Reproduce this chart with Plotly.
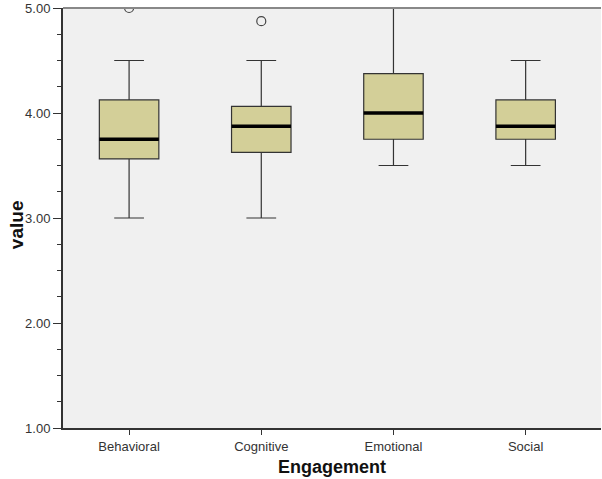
import plotly.graph_objects as go

categories = ["Behavioral", "Cognitive", "Emotional", "Social"]
lower_whisker = [3.0, 3.0, 3.5, 3.5]
q1 = [3.5625, 3.625, 3.75, 3.75]
median = [3.75, 3.875, 4.0, 3.875]
q3 = [4.125, 4.0625, 4.375, 4.125]
upper_whisker = [4.5, 4.5, 5.0, 4.5]
outlier_x = ["Behavioral", "Cognitive"]
outlier_y = [5.0, 4.875]

y_ticks = [1, 2, 3, 4, 5]
y_tick_labels = ["1.00", "2.00", "3.00", "4.00", "5.00"]

fig = go.Figure()

fig.add_trace(go.Box(
    x=categories, q1=q1, median=median, q3=q3,
    lowerfence=lower_whisker, upperfence=upper_whisker,
    fillcolor="#d3cf98", line=dict(color="#333333", width=1.2),
    width=0.45, whiskerwidth=0.5, boxpoints=False, hoverinfo="skip",
    showlegend=False,
))
# thick median lines
fig.add_trace(go.Box(
    x=categories, q1=median, median=median, q3=median,
    lowerfence=median, upperfence=median,
    fillcolor="rgba(0,0,0,0)", line=dict(color="#000000", width=3.5),
    width=0.45, whiskerwidth=0.5, boxpoints=False, hoverinfo="skip",
    showlegend=False,
))
fig.add_trace(go.Scatter(
    x=outlier_x, y=outlier_y, mode="markers",
    marker=dict(symbol="circle-open", size=9, color="#444444", line=dict(width=1.2)),
    showlegend=False, cliponaxis=True,
))

fig.update_layout(
    width=602, height=479,
    margin=dict(l=63, r=1, t=8, b=51),
    paper_bgcolor="white", plot_bgcolor="#f0f0f0",
    boxmode="overlay",
    font=dict(family="Arial, Liberation Sans, sans-serif", size=13, color="#333333"),
    shapes=[dict(type="line", xref="paper", yref="paper", x0=0, x1=1, y0=1, y1=1,
                 line=dict(color="#888888", width=2))],
    annotations=[
        dict(text="<b>Engagement</b>", xref="paper", yref="paper", x=0.5, y=0,
             yshift=-39, xanchor="center", yanchor="middle", showarrow=False,
             font=dict(size=18, color="#111111")),
        dict(text="<b>value</b>", xref="paper", yref="paper", x=0, y=0.483,
             xshift=-47, xanchor="center", yanchor="middle", showarrow=False,
             textangle=-90, font=dict(size=19, color="#111111")),
    ],
)
fig.update_xaxes(
    type="category", categoryorder="array", categoryarray=categories,
    range=[-0.5, 3.57], showgrid=False, zeroline=False, automargin=False,
    showline=True, linecolor="#333333", linewidth=2,
    ticks="outside", ticklen=5, tickcolor="#333333", tickwidth=1,
    tickfont=dict(size=13, color="#333333"),
)
fig.update_yaxes(
    range=[1, 5], showgrid=False, zeroline=False, automargin=False,
    showline=True, linecolor="#333333", linewidth=2,
    tickmode="array", tickvals=y_ticks, ticktext=y_tick_labels,
    ticks="outside", ticklen=8, tickcolor="#333333", tickwidth=1,
    minor=dict(dtick=0.25, ticks="outside", ticklen=4, tickcolor="#333333", tickwidth=1, showgrid=False),
    tickfont=dict(size=13, color="#333333"),
)

# remove the default page body margin so the figure fills the window exactly
fig.write_html("out.html", config={"displayModeBar": False},
               post_script="document.body.style.margin='0';")
